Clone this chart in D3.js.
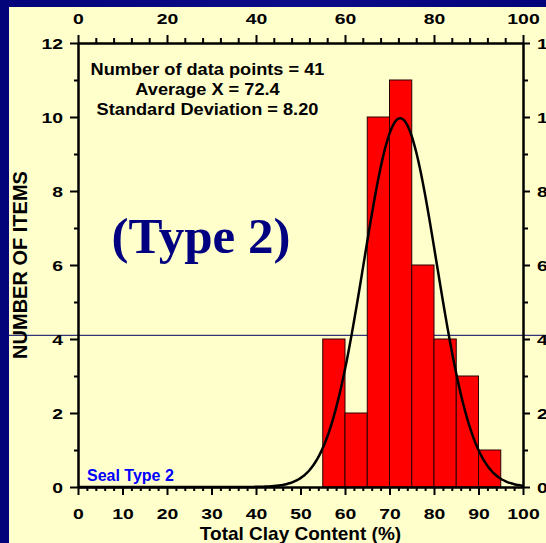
<!DOCTYPE html>
<html>
<head>
<meta charset="utf-8">
<script src="https://cdn.jsdelivr.net/npm/d3@7"></script>
<style>
  html, body { margin: 0; padding: 0; background: #000080; }
  svg { display: block; }
</style>
</head>
<body>
<svg id="chart" width="546" height="543"></svg>
<script>
// Histogram of total clay content, seal type 2
const binStarts = [55, 60, 65, 70, 75, 80, 85, 90];
const binWidth = 5;
const counts = [4, 2, 10, 11, 6, 4, 3, 1];

// Summary statistics printed in the chart and used for the fitted normal curve
const statLabels = ["Number of data points", "Average X", "Standard Deviation"];
const statValues = [41, 72.4, 8.20];
const statText = ["41", "72.4", "8.20"];

// Axis ticks
const bottomMajor = [0, 10, 20, 30, 40, 50, 60, 70, 80, 90, 100];
const topMajor = [0, 20, 40, 60, 80, 100];
const yMajor = [0, 2, 4, 6, 8, 10, 12];
const refLineValue = 4.1;

const W = 546, H = 543;
const svg = d3.select("#chart");

// Background: navy frame and cream panel
const defs = svg.append("defs");
const grad = defs.append("linearGradient").attr("id", "bg").attr("x1", "0").attr("x2", "1").attr("y1", "0").attr("y2", "0");
grad.append("stop").attr("offset", "0%").attr("stop-color", "#03037a");
grad.append("stop").attr("offset", "55%").attr("stop-color", "#0c0c8a");
grad.append("stop").attr("offset", "100%").attr("stop-color", "#03037a");
svg.append("rect").attr("width", W).attr("height", H).attr("fill", "url(#bg)");
svg.append("rect").attr("x", 9).attr("y", 7).attr("width", W - 9).attr("height", H - 7).attr("fill", "#ffffcc");

const x = d3.scaleLinear().domain([0, 100]).range([78, 523]);
const y = d3.scaleLinear().domain([0, 12]).range([487, 43]);

// Thin reference line across the panel, beneath the bars
svg.append("line")
  .attr("x1", 9).attr("x2", W)
  .attr("y1", y(refLineValue)).attr("y2", y(refLineValue))
  .attr("stroke", "#000066").attr("stroke-width", 1);

// Bars
svg.append("g").selectAll("rect")
  .data(binStarts.map((s, i) => ({ s, c: counts[i] })))
  .join("rect")
  .attr("x", d => x(d.s))
  .attr("y", d => y(d.c))
  .attr("width", d => x(d.s + binWidth) - x(d.s))
  .attr("height", d => y(0) - y(d.c))
  .attr("fill", "#ff0000")
  .attr("stroke", "#2a0000")
  .attr("stroke-width", 1);

// Fitted normal curve scaled to counts per bin
const [n, mean, sd] = statValues;
const curvePts = d3.range(0, 100.01, 0.5).map(v => [v,
  n * binWidth * Math.exp(-0.5 * ((v - mean) / sd) ** 2) / (sd * Math.sqrt(2 * Math.PI))]);
svg.append("path")
  .datum(curvePts)
  .attr("fill", "none")
  .attr("stroke", "#000")
  .attr("stroke-width", 2.5)
  .attr("d", d3.line().x(d => x(d[0])).y(d => y(d[1])).curve(d3.curveBasis));

// Axes
const SX = 1.25; // tick label horizontal stretch
const FONT = "'Liberation Sans', Arial, sans-serif";

function styleAxis(g) {
  g.select(".domain").attr("stroke", "#000").attr("stroke-width", 2);
  g.selectAll(".tick line").attr("stroke", "#000").attr("stroke-width", 2);
  g.selectAll("text").attr("font-family", FONT).attr("font-weight", "bold")
    .attr("font-size", 15.5).attr("fill", "#000");
}

function minorVals(step, majorStep, max) {
  return d3.range(0, max + 0.001, step).filter(v => Math.abs(v / majorStep - Math.round(v / majorStep)) > 1e-6);
}

// Bottom
svg.append("g").attr("transform", `translate(0,${y(0)})`)
  .call(d3.axisBottom(x).tickValues(minorVals(2, 10, 100)).tickSize(4).tickSizeOuter(0).tickFormat(""))
  .call(styleAxis);
const gB = svg.append("g").attr("transform", `translate(0,${y(0)})`)
  .call(d3.axisBottom(x).tickValues(bottomMajor).tickSize(8).tickSizeOuter(0).tickFormat(d3.format("d")))
  .call(styleAxis);
gB.selectAll("text").attr("y", 32).attr("dy", 0).attr("transform", `scale(${SX},1)`);

// Top
svg.append("g").attr("transform", `translate(0,${y(12)})`)
  .call(d3.axisTop(x).tickValues(minorVals(4, 20, 100)).tickSize(5).tickSizeOuter(0).tickFormat(""))
  .call(styleAxis);
const gT = svg.append("g").attr("transform", `translate(0,${y(12)})`)
  .call(d3.axisTop(x).tickValues(topMajor).tickSize(8).tickSizeOuter(0).tickFormat(d3.format("d")))
  .call(styleAxis);
gT.selectAll("text").attr("y", -19).attr("dy", 0).attr("transform", `scale(${SX},1)`);

// Left
svg.append("g").attr("transform", `translate(${x(0)},0)`)
  .call(d3.axisLeft(y).tickValues(d3.range(1, 12, 2)).tickSize(4).tickSizeOuter(0).tickFormat(""))
  .call(styleAxis);
const gL = svg.append("g").attr("transform", `translate(${x(0)},0)`)
  .call(d3.axisLeft(y).tickValues(yMajor).tickSize(8).tickSizeOuter(0).tickFormat(d3.format("d")))
  .call(styleAxis);
gL.selectAll("text").attr("x", -15 / SX).attr("dy", "0.36em").attr("transform", `scale(${SX},1)`);

// Right
svg.append("g").attr("transform", `translate(${x(100)},0)`)
  .call(d3.axisRight(y).tickValues(d3.range(1, 12, 2)).tickSize(5).tickSizeOuter(0).tickFormat(""))
  .call(styleAxis);
const gR = svg.append("g").attr("transform", `translate(${x(100)},0)`)
  .call(d3.axisRight(y).tickValues(yMajor).tickSize(7).tickSizeOuter(0).tickFormat(d3.format("d")))
  .call(styleAxis);
gR.selectAll("text").attr("x", 14 / SX).attr("dy", "0.36em").attr("transform", `scale(${SX},1)`);

// Axis titles
svg.append("text")
  .attr("x", (x(0) + x(100)) / 2).attr("y", 540)
  .attr("text-anchor", "middle")
  .attr("font-family", FONT).attr("font-weight", "bold").attr("font-size", 19)
  .text("Total Clay Content (%)");

svg.append("text")
  .attr("transform", `translate(27,${(y(0) + y(12)) / 2}) rotate(-90)`)
  .attr("text-anchor", "middle")
  .attr("font-family", FONT).attr("font-weight", "bold").attr("font-size", 20)
  .text("NUMBER OF ITEMS");

// Statistics block
const statG = svg.append("g").attr("font-family", FONT).attr("font-weight", "bold")
  .attr("font-size", 17).attr("text-anchor", "middle").attr("fill", "#000");
statLabels.forEach((lab, i) => {
  statG.append("text")
    .attr("x", 207.5).attr("y", 75 + i * 20)
    .attr("transform", "translate(207.5,0) scale(1.07,1) translate(-207.5,0)")
    .text(`${lab} = ${statText[i]}`);
});

// Large type label
svg.append("text")
  .attr("x", 201).attr("y", 253)
  .attr("text-anchor", "middle")
  .attr("font-family", "'Liberation Serif', 'Times New Roman', serif")
  .attr("font-weight", "bold").attr("font-size", 51)
  .attr("fill", "#000080")
  .text("(Type 2)");

// Series tag
svg.append("text")
  .attr("x", 87).attr("y", 481)
  .attr("font-family", FONT).attr("font-weight", "bold").attr("font-size", 16)
  .attr("fill", "#0000ff")
  .text("Seal Type 2");
</script>
</body>
</html>
